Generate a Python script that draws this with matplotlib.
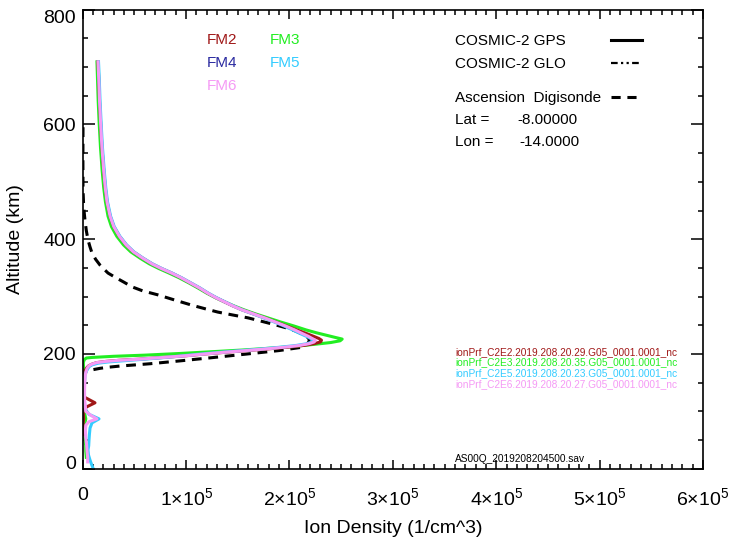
import matplotlib
matplotlib.use("Agg")
import matplotlib.pyplot as plt
from matplotlib.lines import Line2D
from matplotlib.ticker import MultipleLocator

plt.rcParams['font.family'] = ['Liberation Sans', 'DejaVu Sans']
plt.rcParams['mathtext.fontset'] = 'custom'
plt.rcParams['mathtext.rm'] = 'Liberation Sans'
plt.rcParams['mathtext.it'] = 'Liberation Sans:italic'

# ion density profiles (altitude km, density 1/cm^3)
alt_fm6 = [709, 680, 640, 600, 560, 520, 490, 465, 440, 422, 405, 390, 378, 367, 357, 349, 341, 333,
           324, 315, 306, 298, 291, 284, 277, 270, 263, 256, 249, 242, 236, 231, 227, 224, 221, 218,
           215, 212, 209, 206, 203, 200, 197, 194, 191, 189, 187, 185, 182, 179, 175, 169, 163, 150,
           135, 120, 110, 100, 93, 87, 82, 76, 68, 55, 41, 30, 20, 12]
den_fm6 = [14800, 15500, 16300, 17400, 18600, 20300, 21800, 23500, 26500, 30000,
           35500, 42000, 49000, 58000, 67000, 76000, 86000, 95000, 104000, 113000,
           121000, 129000, 137000, 145000, 154000, 165000, 176000, 186000, 196000, 205000,
           212000, 218000, 222000, 225000, 224000, 219000, 210000, 196000, 178000, 158000,
           137000, 118000, 100000, 78000, 55000, 35000, 22000, 13500, 8500, 5800,
           4200, 3200, 2500, 2000, 1800, 1900, 2500, 3000, 8000, 13800,
           6000, 3000, 2600, 2900, 3800, 4200, 4800, 4800]

alt_fm5 = [709, 680, 640, 600, 560, 520, 490, 465, 440, 422, 405, 390, 378, 367, 357, 349, 341, 333,
           324, 315, 306, 298, 291, 284, 277, 270, 263, 256, 249, 242, 236, 231, 227, 224, 221, 218,
           215, 212, 209, 206, 203, 200, 197, 194, 191, 188, 186, 184, 181, 178, 175, 170, 163, 150,
           135, 120, 110, 102, 95, 87, 80, 71, 60, 50, 40, 33, 24, 15, 8, 1]
den_fm5 = [15300, 16000, 16800, 17900, 19100, 20800, 22300, 24000, 27000, 30500,
           36000, 42500, 49500, 58500, 67500, 76500, 86500, 95500, 104500, 113500,
           121500, 129500, 137500, 145500, 154000, 164500, 175000, 185000, 194500, 203000,
           210000, 216000, 220500, 223000, 222000, 217000, 207000, 192000, 174000, 154000,
           133000, 114000, 97000, 80000, 60000, 38000, 24000, 15000, 9000, 6200,
           5100, 3500, 2200, 1800, 1500, 1300, 2000, 3200, 6000, 15800,
           9000, 7100, 6500, 6100, 5800, 5100, 5600, 7100, 8500, 10000]

alt_fm2 = [709, 680, 640, 600, 560, 520, 490, 465, 440, 422, 405, 390, 378, 367, 357, 349, 341, 333,
           324, 315, 306, 298, 291, 284, 277, 270, 263, 256, 249, 242, 236, 231, 227, 224, 221, 218,
           215, 212, 209, 206, 203, 200, 197, 194, 191, 189, 187, 185, 182, 179, 175, 169, 163, 145,
           125, 115, 108, 102, 93, 87, 80, 70, 60]
den_fm2 = [14800, 15500, 16300, 17400, 18600, 20300, 21800, 23500, 26500, 30000,
           35500, 42000, 49000, 58000, 67000, 76000, 86000, 95000, 104000, 113000,
           121000, 129000, 137000, 145000, 154000, 165000, 176000, 186500, 197000, 207000,
           216000, 223000, 228500, 231000, 230000, 224000, 214000, 199000, 180000, 159000,
           138000, 118000, 100000, 78000, 55000, 35000, 22000, 13500, 8500, 5500,
           3500, 1800, 1000, 1200, 1500, 11900, 4000, 300, 800, 1000,
           400, 1000, 800]

alt_fm3 = [709, 680, 640, 600, 560, 520, 490, 465, 440, 422, 405, 390, 378, 367, 357, 349, 341, 333,
           324, 315, 306, 298, 291, 284, 277, 270, 263, 256, 249, 242, 237, 233, 229, 226, 223, 220,
           217, 213, 210, 207, 204, 201, 198, 196, 194, 193, 190, 185, 178, 165, 140, 120, 100, 87,
           75, 68, 55, 41, 30, 20]
den_fm3 = [13800, 14300, 15000, 16000, 17200, 18800, 20300, 22000, 24500, 27800,
           33000, 39500, 46500, 55500, 64500, 73500, 83500, 93000, 102500, 111500,
           120000, 128500, 137000, 146000, 156000, 167000, 179000, 191000, 204000, 216000,
           226000, 235000, 244000, 251000, 249000, 240000, 225000, 203000, 180000, 155000,
           125000, 95000, 60000, 30000, 9000, 3500, 1500, 600, 800, 800,
           1000, 1000, 1500, 3000, 1500, 1000, 1500, 2900, 3000, 3500]

alt_digi = [595, 540, 486, 455, 433, 415, 399, 387, 376, 365, 355, 348, 341, 333, 325, 317, 310, 303,
            294, 285, 279, 273, 268, 263, 257, 251, 245, 240, 235, 230, 226, 222, 217, 212, 206, 200,
            194, 188, 183, 179, 177, 175, 172, 169, 163, 158, 150, 140, 125]
den_digi = [300, 200, 300, 1000, 2200, 3500, 5100, 7000, 9000, 12500,
            16700, 20500, 24500, 32000, 40000, 47700, 58000, 72800, 89000, 105700,
            118000, 130800, 145000, 159800, 173000, 186000, 198000, 206000, 212000, 217000,
            219000, 219000, 217000, 213000, 190000, 159000, 127000, 94000, 65000, 36000,
            25000, 16700, 8000, 2200, 600, 0, 400, 800, 300]

xticks = [0, 1e5, 2e5, 3e5, 4e5, 5e5, 6e5]
xticklabels = ['0'] + [r'$\mathregular{%d{\times}10^{5}}$' % i for i in range(1, 7)]
yticks = [0, 200, 400, 600, 800]

files = ['ionPrf_C2E2.2019.208.20.29.G05_0001.0001_nc',
         'ionPrf_C2E3.2019.208.20.35.G05_0001.0001_nc',
         'ionPrf_C2E5.2019.208.20.23.G05_0001.0001_nc',
         'ionPrf_C2E6.2019.208.20.27.G05_0001.0001_nc']

c_fm2 = '#a01818'
c_fm3 = '#22ee22'
c_fm4 = '#2a2aa0'
c_fm5 = '#33ccff'
c_fm6 = '#f59af5'

W, H = 730, 542
fig = plt.figure(figsize=(W / 100, H / 100), dpi=100)
ax = fig.add_axes([82.7 / W, 1 - 468.8 / H, 620.3 / W, 459.2 / H])

lw = 2.2
ax.plot(den_digi, alt_digi, color='black', lw=lw, ls=(0, (3.2, 2.2)))
ax.plot(den_fm3, alt_fm3, color=c_fm3, lw=lw)
ax.plot(den_fm2, alt_fm2, color=c_fm2, lw=lw)
ax.plot(den_fm5, alt_fm5, color=c_fm5, lw=lw)
ax.plot(den_fm6, alt_fm6, color=c_fm6, lw=lw)

ax.set_xlim(0, 6e5)
ax.set_ylim(0, 800)
ax.set_xticks(xticks)
ax.set_xticklabels(xticklabels)
ax.set_yticks(yticks)
ax.xaxis.set_minor_locator(MultipleLocator(1e4))
ax.yaxis.set_minor_locator(MultipleLocator(50))
ax.tick_params(axis='both', which='both', direction='in', top=True, right=True,
               width=1.1, labelsize=14)
ax.tick_params(axis='x', which='major', length=6.6, pad=13)
ax.tick_params(axis='x', which='minor', length=3.3)
ax.tick_params(axis='y', which='major', length=8.9, pad=5)
ax.tick_params(axis='y', which='minor', length=3.6)
for s in ax.spines.values():
    s.set_linewidth(1.2)
ylabs = ax.get_yticklabels()
ylabs[0].set_va('baseline')
ylabs[-1].set_va('top')

ax.set_xlabel('Ion Density (1/cm^3)', fontsize=14, labelpad=8)
ax.set_ylabel('Altitude (km)', fontsize=14, labelpad=14)


def ftext(x, y, s, **kw):
    fig.text(x / W, 1 - y / H, s, va='center', ha='left', **kw)


ftext(207, 40, 'FM2', color=c_fm2, fontsize=11)
ftext(270, 40, 'FM3', color=c_fm3, fontsize=11)
ftext(207, 63, 'FM4', color=c_fm4, fontsize=11)
ftext(270, 63, 'FM5', color=c_fm5, fontsize=11)
ftext(207, 86, 'FM6', color=c_fm6, fontsize=11)

ftext(455, 41, 'COSMIC-2 GPS', fontsize=11)
ftext(455, 64, 'COSMIC-2 GLO', fontsize=11)
ftext(455, 98, 'Ascension  Digisonde', fontsize=11)
ftext(455, 120, 'Lat =', fontsize=11)
ftext(517, 120, '-8.00000', fontsize=11)
ftext(455, 142, 'Lon =', fontsize=11)
ftext(519, 142, '-14.0000', fontsize=11)

for yy, st, w in [(40, '-', 2.2), (63, (0, (3, 1.5, 1, 1.5, 1, 1.5)), 1.6), (97, (0, (3, 2.2)), 2.2)]:
    fig.add_artist(Line2D([611 / W, 642 / W], [1 - yy / H, 1 - yy / H], color='black', lw=w, ls=st))

for f, c, yy in zip(files, [c_fm2, c_fm3, c_fm5, c_fm6], [352, 362.5, 373, 384]):
    ftext(455, yy, f, color=c, fontsize=7.3)
ftext(455, 459, 'AS00Q_2019208204500.sav', fontsize=7.3)

fig.savefig('out.png', dpi=100)
